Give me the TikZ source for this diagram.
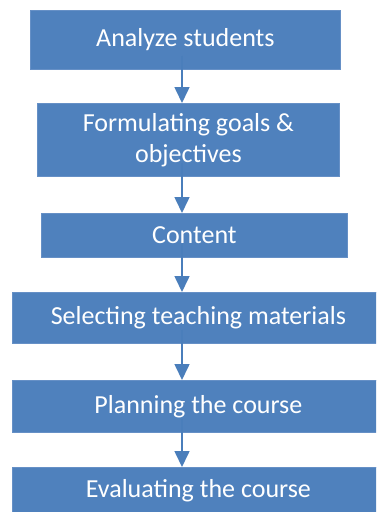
\documentclass[tikz,border=0pt]{standalone}
\usepackage{fontspec}
\setmainfont{Carlito}
\usetikzlibrary{arrows.meta,calc}
\definecolor{boxblue}{HTML}{4F81BD}
\definecolor{boxedge}{HTML}{6690C6}
\definecolor{flowblue}{HTML}{4A7EBB}
\begin{document}
\begin{tikzpicture}[x=1pt,y=-1pt,
  stepbox/.style={draw=boxedge, line width=0.8pt, fill=boxblue, text=white,
    anchor=north west, inner sep=0pt, align=center,
    font=\fontsize{26}{31}\selectfont},
  flow/.style={draw=flowblue, line width=1.6pt,
    -{Triangle[width=15pt,length=16pt]}}]
  \useasboundingbox (0,0) rectangle (376,512);
  \clip (0,0) rectangle (376,512);
  % process steps
  \node[stepbox, minimum width=310pt, minimum height=59pt] (s1) at (30,10) {Analyze students};
  \node[stepbox, minimum width=302pt, minimum height=73pt] (s2) at (37,103) {Formulating goals \&\\objectives};
  \node[stepbox, minimum width=306pt, minimum height=44pt] (s3) at (41,213) {Content};
  \node[stepbox, minimum width=372pt, minimum height=51pt] (s4) at (12,292) {Selecting teaching materials};
  \node[stepbox, minimum width=372pt, minimum height=52pt] (s5) at (12,380) {Planning the course};
  \node[stepbox, minimum width=372pt, minimum height=47pt] (s6) at (12,467) {Evaluating the course};
  % vertical axis shared by all connectors
  \coordinate (axis) at (182,0);
  \foreach \a/\b in {s1/s2, s2/s3, s3/s4, s4/s5, s5/s6}
    \draw[flow] ($(\a.south -| axis)+(0,-14)$) -- (\b.north -| axis);
\end{tikzpicture}
\end{document}
